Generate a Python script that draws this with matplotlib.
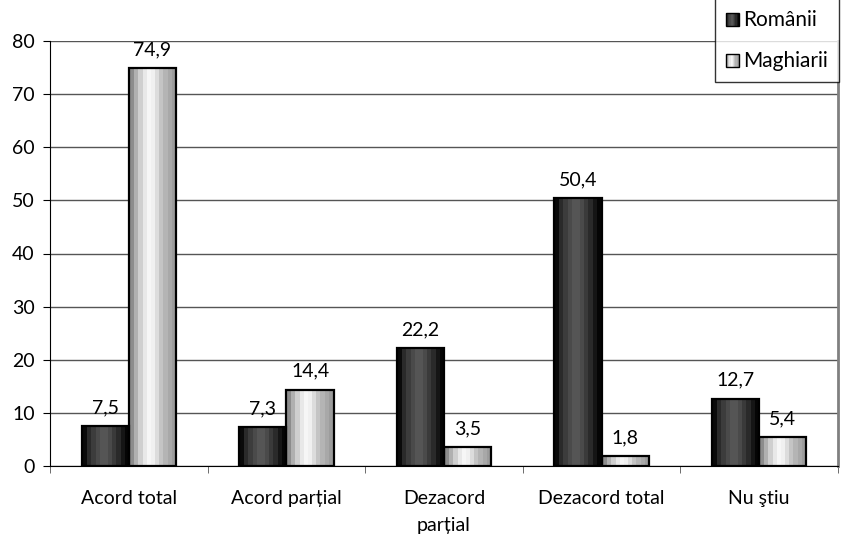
import matplotlib.pyplot as plt
import numpy as np
from matplotlib.colors import LinearSegmentedColormap
from matplotlib.patches import Rectangle
from matplotlib.legend_handler import HandlerBase

plt.rcParams['font.family'] = ['Lato', 'DejaVu Sans']

categories = ['Acord total', 'Acord parțial', 'Dezacord\nparțial', 'Dezacord total', 'Nu ştiu']
romanii = [7.5, 7.3, 22.2, 50.4, 12.7]
maghiarii = [74.9, 14.4, 3.5, 1.8, 5.4]
series_names = ['Românii', 'Maghiarii']

# striped "cylinder" shading, left to right across each bar
dark_steps = ['#0a0a0a', '#2a2a2a', '#3c3c3c', '#4a4a4a', '#555555', '#555555',
              '#4a4a4a', '#3a3a3a', '#2a2a2a', '#151515', '#050505']
light_steps = ['#8c8c8c', '#b0b0b0', '#cfcfcf', '#e8e8e8', '#f6f6f6', '#f0f0f0',
               '#dcdcdc', '#c4c4c4', '#b4b4b4', '#a8a8a8', '#9c9c9c']

fig = plt.figure(figsize=(8.47, 5.46), dpi=100)
ax = fig.add_axes([50 / 847, 80 / 546, 788 / 847, 425 / 546])

x = np.arange(len(categories))
w = 0.3


def shade(bars, steps):
    cmap = LinearSegmentedColormap.from_list('s', steps, N=len(steps))
    grad = np.linspace(0, 1, 60).reshape(1, -1)
    for b in bars:
        x0, y0 = b.get_x(), b.get_y()
        im = ax.imshow(grad, cmap=cmap, aspect='auto', interpolation='nearest',
                       extent=(x0, x0 + b.get_width(), y0, y0 + b.get_height()),
                       zorder=3)
        im.set_clip_path(b)


b1 = ax.bar(x - w / 2, romanii, w, facecolor='none', edgecolor='black',
            linewidth=1.6, zorder=4, label=series_names[0])
b2 = ax.bar(x + w / 2, maghiarii, w, facecolor='none', edgecolor='black',
            linewidth=1.6, zorder=4, label=series_names[1])
shade(b1, dark_steps)
shade(b2, light_steps)

for bars, vals in ((b1, romanii), (b2, maghiarii)):
    for b, v in zip(bars, vals):
        ax.annotate(f'{v:.1f}'.replace('.', ','),
                    (b.get_x() + b.get_width() / 2, v),
                    xytext=(0, 7), textcoords='offset points',
                    ha='center', va='bottom', fontsize=14)

ax.set_xlim(-0.5, len(categories) - 0.5)
ax.set_ylim(0, 80)
ax.set_yticks(range(0, 81, 10))
ax.yaxis.grid(True, color='#555555', linewidth=1)
ax.set_axisbelow(True)

ax.set_xticks(x)
ax.set_xticklabels(categories, fontsize=14, linespacing=1.75)
ax.set_xticks(np.arange(-0.5, len(categories), 1), minor=True)
ax.tick_params(axis='x', which='major', length=0, pad=17)
ax.tick_params(axis='x', which='minor', length=5, direction='out', color='#555555')
ax.tick_params(axis='y', length=5, direction='out', labelsize=14, pad=6)

ax.spines['top'].set_visible(False)
ax.spines['right'].set_color('#808080')
ax.spines['right'].set_linewidth(2)
ax.spines['left'].set_color('black')
ax.spines['bottom'].set_color('black')


# legend handles with the same shading
class GradHandler(HandlerBase):
    def __init__(self, steps):
        super().__init__()
        self.steps = steps

    def create_artists(self, legend, orig, xd, yd, width, height, fontsize, trans):
        arts = []
        n = len(self.steps)
        s = height * 0.9
        x0 = xd + (width - s) / 2
        for i, c in enumerate(self.steps):
            arts.append(Rectangle((x0 + i * s / n, yd), s / n, s, facecolor=c,
                                  edgecolor='none', transform=trans))
        arts.append(Rectangle((x0, yd), s, s, facecolor='none', edgecolor='black',
                              linewidth=1, transform=trans))
        return arts


leg = fig.legend([b1, b2], series_names, loc='upper right',
                 bbox_to_anchor=(839 / 847, 1.003), borderaxespad=0,
                 fontsize=15, frameon=True,
                 fancybox=False, edgecolor='black', handlelength=0.6,
                 handletextpad=0.2, labelspacing=1.0, borderpad=0.55,
                 handler_map={b1: GradHandler(dark_steps), b2: GradHandler(light_steps)})
leg.get_frame().set_linewidth(1)

fig.savefig('out.png', dpi=100)
